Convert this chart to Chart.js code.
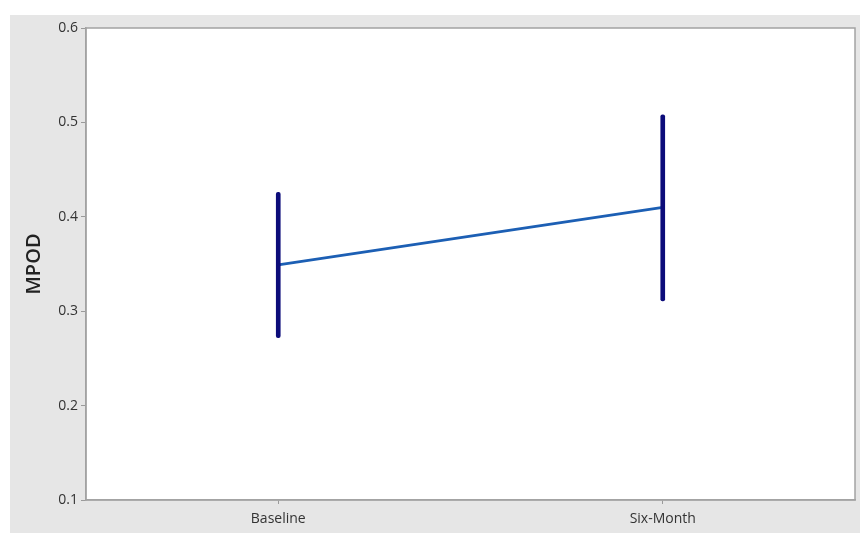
<!DOCTYPE html>
<html>
<head>
<meta charset="utf-8">
<script src="https://cdn.jsdelivr.net/npm/chart.js@4/dist/chart.umd.min.js"></script>
<style>
  html, body { margin: 0; padding: 0; background: #ffffff; }
  #wrap { width: 860px; height: 533px; position: relative; }
</style>
</head>
<body>
<div id="wrap"><canvas id="c" width="860" height="533"></canvas></div>
<script>
// Time points and MPOD summary values (mean with interval bounds)
const timepoints = ['Baseline', 'Six-Month'];
const meanMPOD = [0.349, 0.410];
const lowerMPOD = [0.272, 0.311];
const upperMPOD = [0.426, 0.508];
const yTicks = [0.1, 0.2, 0.3, 0.4, 0.5, 0.6];

// Panel backdrop: grey frame with a white plotting region and a grey border
const backdrop = {
  id: 'backdrop',
  beforeDraw(chart) {
    const { ctx, chartArea: a, width, height } = chart;
    ctx.save();
    ctx.fillStyle = '#ffffff';
    ctx.fillRect(0, 0, width, height);
    ctx.fillStyle = '#e6e6e6';
    ctx.fillRect(10, 15, width - 10, height - 15);
    ctx.fillStyle = '#ffffff';
    ctx.fillRect(a.left, a.top, a.right - a.left, a.bottom - a.top);
    ctx.restore();
  },
  afterDraw(chart) {
    const { ctx, chartArea: a } = chart;
    ctx.save();
    ctx.strokeStyle = '#a3a3a3';
    ctx.lineWidth = 1.5;
    ctx.strokeRect(a.left, a.top, a.right - a.left, a.bottom - a.top);
    ctx.restore();
  }
};

new Chart(document.getElementById('c'), {
  type: 'bar',
  data: {
    labels: timepoints,
    datasets: [
      {
        type: 'bar',
        label: 'Interval',
        data: timepoints.map((_, i) => [lowerMPOD[i], upperMPOD[i]]),
        backgroundColor: '#0c0c7a',
        borderWidth: 0,
        borderRadius: 2,
        borderSkipped: false,
        barThickness: 4,
        order: 0
      },
      {
        type: 'line',
        label: 'Mean',
        data: meanMPOD,
        borderColor: '#1c5fb4',
        borderWidth: 2.8,
        pointRadius: 0,
        tension: 0,
        order: 1
      }
    ]
  },
  plugins: [backdrop],
  options: {
    responsive: false,
    animation: false,
    devicePixelRatio: 1,
    layout: { padding: { left: 18, right: 5, top: 28, bottom: 0 } },
    plugins: {
      legend: { display: false },
      tooltip: { enabled: false },
      title: { display: false }
    },
    scales: {
      x: {
        offset: true,
        grid: { offset: false, drawOnChartArea: false, drawTicks: true, tickLength: 4, color: '#9a9a9a' },
        border: { display: true, color: '#a3a3a3', width: 1.5 },
        ticks: { color: '#333333', font: { family: 'Open Sans', size: 14 }, padding: 7 },
        afterFit(scale) { scale.height = 33; }
      },
      y: {
        min: 0.1,
        max: 0.6,
        afterBuildTicks(scale) { scale.ticks = yTicks.map(v => ({ value: v })); },
        grid: { drawOnChartArea: false, drawTicks: true, tickLength: 5, color: '#9a9a9a' },
        border: { display: true, color: '#a3a3a3', width: 1.5 },
        ticks: {
          color: '#333333',
          font: { family: 'Open Sans', size: 14 },
          padding: 3,
          callback: v => v.toFixed(1)
        },
        title: {
          display: true,
          text: 'MPOD',
          color: '#222222',
          font: { family: 'Open Sans', size: 20, weight: '600' },
          padding: { top: 4, bottom: 8 }
        },
        afterFit(scale) { scale.width = 68; }
      }
    }
  }
});
</script>
</body>
</html>
